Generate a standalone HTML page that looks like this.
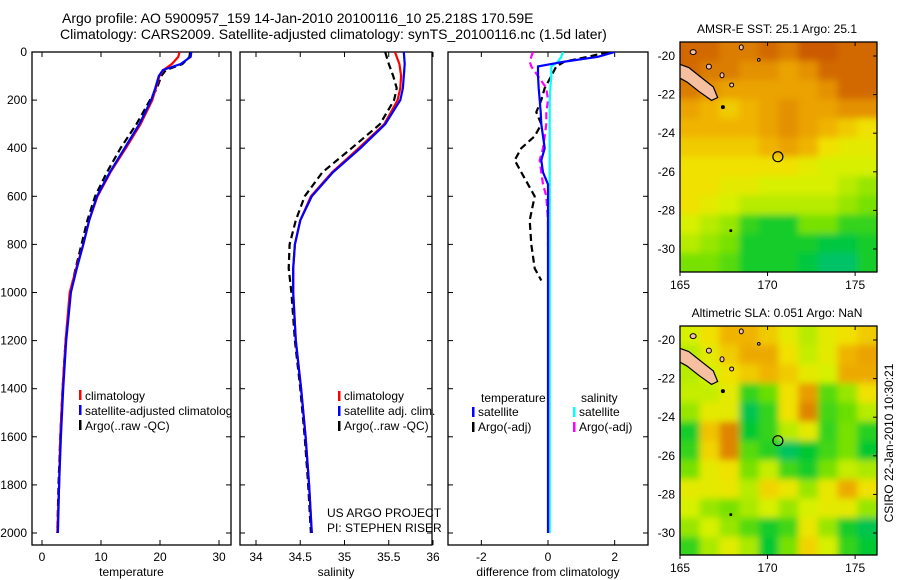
<!DOCTYPE html>
<html><head><meta charset="utf-8">
<style>
body{margin:0;background:#fff;}
svg{display:block;font-family:"Liberation Sans",sans-serif;}
text{fill:#000;}
</style></head>
<body>
<svg id="fig" width="900" height="580" viewBox="0 0 900 580">
<defs>
<clipPath id="c1"><rect x="32" y="52" width="199" height="493"/></clipPath>
<clipPath id="c2"><rect x="240" y="52" width="192" height="493"/></clipPath>
<clipPath id="c3"><rect x="448" y="52" width="200" height="493"/></clipPath>
<clipPath id="cm1"><rect x="680" y="42" width="197" height="230"/></clipPath>
<clipPath id="cm2"><rect x="680" y="326" width="197" height="229"/></clipPath>
<filter id="bl" filterUnits="userSpaceOnUse" x="650" y="0" width="250" height="580"><feGaussianBlur stdDeviation="3.5"/></filter>
</defs>
<text x="62" y="23" font-size="14">Argo profile: AO 5900957_159 14-Jan-2010 20100116_10 25.218S 170.59E</text>
<text x="60" y="39" font-size="14">Climatology: CARS2009. Satellite-adjusted climatology: synTS_20100116.nc (1.5d later)</text>
<g id="g"></g>
</svg>
<script>
// ---------- data ----------
const depthT = [0,20,50,75,100,150,200,300,400,500,600,700,800,900,1000,1200,1400,1600,1800,2000];
const tempClim = [23.3,23.1,22,20.6,19.9,19.3,18.7,16.7,14.2,11.6,9.4,8,7,5.8,4.7,4.0,3.5,3.1,2.9,2.6];
const tempSat = [25.3,25.2,23.5,20.5,19.8,19.2,18.5,16.5,14,11.5,9.3,8,7,5.9,4.9,4.1,3.6,3.2,2.9,2.7];
const tempArgo = [25.1,25,23.8,21,20.2,19.5,18.3,16,13.3,11,9,7.7,6.7,5.7,4.8,4.0,3.5,3.1,2.8,2.6];
const depthS = [0,50,100,150,200,300,400,500,600,700,800,900,1000,1200,1400,1600,1800,2000];
const salClim = [35.57,35.62,35.64,35.63,35.6,35.45,35.16,34.86,34.62,34.5,34.44,34.42,34.42,34.45,34.51,34.56,34.6,34.63];
const salSat = [35.67,35.68,35.67,35.66,35.63,35.46,35.18,34.87,34.63,34.5,34.44,34.42,34.42,34.45,34.51,34.56,34.6,34.63];
const salArgo = [35.46,35.5,35.55,35.59,35.56,35.4,35.08,34.75,34.55,34.45,34.38,34.37,34.4,34.44,34.5,34.55,34.59,34.62];
const depthD = [0,20,40,60,100,150,200,250,300,350,400,450,500,550,600,700,800,900,950,1000,1200,1500,2000];
const diffTempSat = [2.0,1.5,0.5,-0.3,-0.3,-0.28,-0.25,-0.22,-0.2,-0.15,-0.1,-0.2,-0.15,0,0,0,0,0,0,0,0,0,0];
const diffTempArgo = [1.8,1.2,0.5,0.25,0.1,-0.1,-0.2,-0.35,-0.2,-0.4,-0.8,-1.0,-0.8,-0.6,-0.4,-0.55,-0.5,-0.4,-0.2];
const diffSalSat = [0.45,0.4,0.3,0.1,0.1,0.07,0.05,0.05,0.05,0.05,0.05,0.05,0.05,0.05,0.05,0.05,0.05,0.05,0.05,0.05,0.05,0.05,0.05];
const diffSalArgo = [-0.45,-0.5,-0.55,-0.5,-0.3,-0.05,0,-0.05,-0.05,-0.1,-0.15,-0.25,-0.2,-0.15,-0.05,0,0,0.02];
const depthTicks = [0,200,400,600,800,1000,1200,1400,1600,1800,2000];
const tempTicks = [0,10,20,30];
const salTicks = [34,34.5,35,35.5,36];
const diffTicks = [-2,0,2];
const lonTicks = [165,170,175];
const latTicks = [-20,-22,-24,-26,-28,-30];
const sstGrid = [
[0.85,0.85,0.8,0.8,0.85,0.8,0.9,0.9,0.85,0.85],
[0.85,0.8,0.8,0.75,0.75,0.7,0.75,0.85,0.85,0.85],
[0.8,0.75,0.7,0.7,0.7,0.7,0.7,0.75,0.85,0.85],
[0.7,0.65,0.6,0.65,0.7,0.75,0.7,0.7,0.75,0.75],
[0.65,0.65,0.65,0.65,0.7,0.75,0.7,0.65,0.6,0.55],
[0.6,0.6,0.6,0.6,0.65,0.7,0.65,0.55,0.5,0.5],
[0.55,0.55,0.55,0.55,0.55,0.55,0.5,0.45,0.45,0.45],
[0.55,0.55,0.5,0.5,0.45,0.45,0.45,0.45,0.4,0.35],
[0.55,0.5,0.45,0.4,0.4,0.4,0.4,0.4,0.35,0.3],
[0.45,0.4,0.35,0.2,0.15,0.15,0.3,0.3,0.2,0.2],
[0.4,0.35,0.3,0.15,0.15,0.15,0.15,0.1,0.1,0.15],
[0.3,0.3,0.25,0.15,0.15,0.15,0.1,0.05,0.05,0.15]];
const slaGrid = [
[0.45,0.55,0.65,0.65,0.6,0.5,0.4,0.5,0.55,0.6],
[0.4,0.5,0.6,0.68,0.68,0.55,0.42,0.5,0.65,0.7],
[0.4,0.45,0.55,0.6,0.65,0.6,0.5,0.45,0.68,0.68],
[0.42,0.42,0.5,0.2,0.28,0.55,0.72,0.25,0.35,0.55],
[0.35,0.5,0.5,0.08,0.2,0.55,0.78,0.22,0.28,0.4],
[0.15,0.62,0.78,0.12,0.2,0.4,0.5,0.2,0.3,0.18],
[0.2,0.58,0.78,0.25,0.18,0.06,0.12,0.22,0.3,0.12],
[0.3,0.5,0.55,0.3,0.42,0.22,0.15,0.3,0.42,0.38],
[0.5,0.5,0.52,0.4,0.58,0.52,0.35,0.52,0.68,0.55],
[0.45,0.35,0.3,0.38,0.45,0.35,0.45,0.5,0.5,0.35],
[0.35,0.45,0.35,0.25,0.15,0.22,0.52,0.35,0.15,0.08],
[0.2,0.38,0.48,0.38,0.12,0.3,0.58,0.45,0.2,0.12]];
const argoLon = 170.59, argoLat = -25.218;

// ---------- helpers ----------
const NS='http://www.w3.org/2000/svg';
const G=document.getElementById('g');
function mk(tag,attrs,parent){const e=document.createElementNS(NS,tag);for(const k in attrs)e.setAttribute(k,attrs[k]);(parent||G).appendChild(e);return e;}
function lin(d0,d1,r0,r1){return v=>r0+(v-d0)*(r1-r0)/(d1-d0);}
const yD = lin(0,2000,52,533);

function panel(x0,x1,xs,ticks,label,name,fmt){
  const f=mk('rect',{x:x0,y:52,width:x1-x0,height:493,fill:'none',stroke:'#000','stroke-width':1.3});
  
  
  depthTicks.forEach(d=>{const y=yD(d);
    mk('line',{x1:x0,x2:x0+5,y1:y,y2:y,stroke:'#000'});
    mk('line',{x1:x1-5,x2:x1,y1:y,y2:y,stroke:'#000'});});
  ticks.forEach(v=>{const x=xs(v);
    mk('line',{x1:x,x2:x,y1:52,y2:57,stroke:'#000'});
    mk('line',{x1:x,x2:x,y1:540,y2:545,stroke:'#000'});
    const t=mk('text',{x:x,y:561,'font-size':12,'text-anchor':'middle'});t.textContent=fmt(v);
    
    });
  const l=mk('text',{x:(x0+x1)/2,y:576,'font-size':12,'text-anchor':'middle'});l.textContent=label;
  
  
}
function line(xs,vals,depths,color,clip,name,dash){
  const pts=vals.map((v,i)=>xs(v).toFixed(1)+','+yD(depths[i]).toFixed(1)).join(' ');
  const a={points:pts,fill:'none',stroke:color,'stroke-width':2.2,'clip-path':'url(#'+clip+')'};
  if(dash)a['stroke-dasharray']=dash;
  const p=mk('polyline',a);
  
  
}
function legend(x,y,color,label,name){
  mk('rect',{x:x,y:y-9,width:2.5,height:10,fill:color});
  const t=mk('text',{x:x+6,y:y,'font-size':12});t.textContent=label;
  
  
}

// y tick labels
depthTicks.forEach(d=>{const t=mk('text',{x:27,y:yD(d)+4,'font-size':12,'text-anchor':'end'});t.textContent=d;
  
  });

// panel 1 temperature
const xT=lin(0,30,42,219);
panel(32,231,xT,tempTicks,'temperature','temperature-panel',v=>v);
line(xT,tempArgo,depthT,'#000','c1','temp-argo-line','7,4');
line(xT,tempClim,depthT,'#f00','c1','temp-clim-line');
line(xT,tempSat,depthT,'#00f','c1','temp-sat-line');
const lg1=mk('g',{'clip-path':'url(#c1)'});
[['#f00','climatology'],['#00f','satellite-adjusted climatology'],['#000','Argo(..raw -QC)']].forEach((e,i)=>{
  mk('rect',{x:79,y:390+i*15,width:2.5,height:10,fill:e[0]},lg1);
  const t=mk('text',{x:85,y:400+i*15,'font-size':12},lg1);t.textContent=e[1];
  
  });

// panel 2 salinity
const xS=lin(34,36,256,433);
panel(240,432,xS,salTicks,'salinity','salinity-panel',v=>v);
line(xS,salArgo,depthS,'#000','c2','sal-argo-line','7,4');
line(xS,salClim,depthS,'#f00','c2','sal-clim-line');
line(xS,salSat,depthS,'#00f','c2','sal-sat-line');
legend(338,400,'#f00','climatology','sal-legend-clim');
legend(338,415,'#00f','satellite adj. clim.','sal-legend-sat');
legend(338,430,'#000','Argo(..raw -QC)','sal-legend-argo');
const u1=mk('text',{x:327,y:517,'font-size':12});u1.textContent='US ARGO PROJECT';


const u2=mk('text',{x:327,y:532,'font-size':12});u2.textContent='PI: STEPHEN RISER';



// panel 3 difference
const xDf=lin(-3,3,448,648);
panel(448,648,xDf,diffTicks,'difference from climatology','difference-panel',v=>v);
line(xDf,diffTempArgo,depthD,'#000','c3','diff-temp-argo-line','7,4');
line(xDf,diffSalArgo,depthD,'#f0f','c3','diff-sal-argo-line','7,4');
line(xDf,diffSalSat,depthD,'#0ff','c3','diff-sal-sat-line');
line(xDf,diffTempSat,depthD,'#00f','c3','diff-temp-sat-line');
const lt=mk('text',{x:481,y:402,'font-size':12});lt.textContent='temperature';


const ls=mk('text',{x:581,y:402,'font-size':12});ls.textContent='salinity';


legend(472,416,'#00f','satellite','diff-legend-temp-sat');
legend(472,431,'#000','Argo(-adj)','diff-legend-temp-argo');
legend(573,416,'#0ff','satellite','diff-legend-sal-sat');
legend(573,431,'#f0f','Argo(-adj)','diff-legend-sal-argo');

// ---------- maps ----------
const stops=[[0,[0,192,140]],[0.12,[0,200,50]],[0.3,[120,225,0]],[0.45,[215,240,0]],[0.55,[240,225,0]],[0.65,[240,180,0]],[0.75,[228,145,0]],[0.85,[210,105,0]],[1,[190,60,0]]];
function cmap(v){for(let i=1;i<stops.length;i++){if(v<=stops[i][0]){const a=stops[i-1],b=stops[i],t=(v-a[0])/(b[0]-a[0]);
  return 'rgb('+a[1].map((c,k)=>Math.round(c+(b[1][k]-c)*t)).join(',')+')';}}return 'rgb(190,60,0)';}
function map(grid,top,bot,clip,title,name){
  const x0=680,x1=877,lon0=165,lon1=176.25;
  const xL=lin(lon0,lon1,x0,x1);
  const yL=lin(-20,-30,name==='sst'?56:340,name==='sst'?249:533);
  const rows=grid.length,cols=grid[0].length;
  const latT=-19.25,latB=-31.2;
  const g=mk('g',{'clip-path':'url(#'+clip+')'});
  const gb=mk('g',{filter:'url(#bl)'},g);
  grid.forEach((row,r)=>row.forEach((v,c)=>{
    const lo=lon0+(lon1-lon0)*c/cols, la=latT+(latB-latT)*r/rows;
    const xa=xL(lo),ya=yL(la),w=xL(lon0+(lon1-lon0)*(c+1)/cols)-xa,h=yL(latT+(latB-latT)*(r+1)/rows)-ya;
    const rc=mk('rect',{x:xa-(c==0?14:0),y:ya-(r==0?14:0),width:w+1+(c==0||c==cols-1?14:0),height:h+1+(r==0||r==rows-1?14:0),fill:cmap(v)},gb);
    
    
  }));
  // New Caledonia
  const nc=[[164.9,-20.4],[165.5,-20.6],[166.2,-21.1],[166.9,-21.6],[167.15,-22.15],[166.8,-22.3],[166.1,-21.85],[165.4,-21.35],[164.9,-21.1]];
  const isl=mk('polygon',{points:nc.map(p=>xL(p[0])+','+yL(p[1])).join(' '),fill:'#f5bfa0',stroke:'#000','stroke-width':1.2},g);
  
  
  [[165.75,-19.8,3,2.5],[166.65,-20.55,2.5,2.5],[167.4,-21.0,2,2.5],[167.95,-21.5,2,2],[168.5,-19.55,2,2.5],[169.5,-20.2,1.3,1.3]].forEach(s=>
    mk('ellipse',{cx:xL(s[0]),cy:yL(s[1]),rx:s[2],ry:s[3],fill:'#f5bfa0',stroke:'#000','stroke-width':1},g));
  mk('circle',{cx:xL(167.45),cy:yL(-22.65),r:2,fill:'#000'},g);
  mk('circle',{cx:xL(167.9),cy:yL(-29.05),r:1.5,fill:'#000'},g);
  const ac=mk('circle',{cx:xL(argoLon),cy:yL(argoLat),r:5,fill:'none',stroke:'#000','stroke-width':1.2});
  
  
  const fr=mk('rect',{x:x0,y:top,width:x1-x0,height:bot-top,fill:'none',stroke:'#000','stroke-width':1.3});
  
  
  lonTicks.forEach(l=>{const x=xL(l);
    mk('line',{x1:x,x2:x,y1:top,y2:top+4,stroke:'#000'});mk('line',{x1:x,x2:x,y1:bot,y2:bot+4,stroke:'#000'});
    const t=mk('text',{x:x,y:bot+17,'font-size':12,'text-anchor':'middle'});t.textContent=l;
    
    });
  latTicks.forEach(l=>{const y=yL(l);
    mk('line',{x1:x1-4,x2:x1,y1:y,y2:y,stroke:'#000'});
    const t=mk('text',{x:675,y:y+4,'font-size':12,'text-anchor':'end'});t.textContent=l;
    
    });
  const tt=mk('text',{x:777,y:top-9,'font-size':12,'text-anchor':'middle'});tt.textContent=title;
  
  
}
map(sstGrid,42,272,'cm1','AMSR-E SST: 25.1 Argo: 25.1','sst');
map(slaGrid,326,555,'cm2','Altimetric SLA: 0.051 Argo: NaN','sla');
const cs=mk('text',{x:0,y:0,'font-size':12,'text-anchor':'middle',transform:'translate(893,443) rotate(-90)'});
cs.textContent='CSIRO 22-Jan-2010 10:30:21';


</script>
</body></html>
